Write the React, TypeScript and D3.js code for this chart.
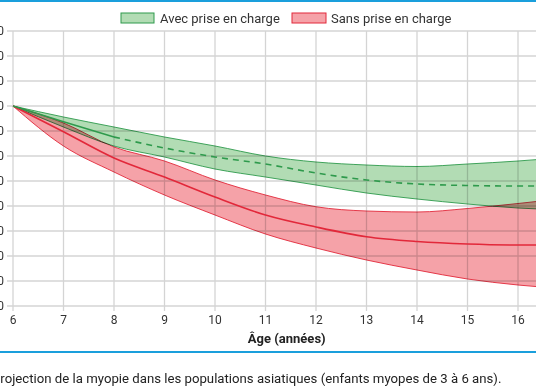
import React from 'react';
import * as d3 from 'd3';

// Âge (années)
const ages = [6, 7, 8, 9, 10, 11, 12, 13, 14, 15, 16, 17];

// Avec prise en charge : bornes et valeur centrale (dioptries)
const avecHaut = [-1.0, -1.44, -1.84, -2.24, -2.6, -3.0, -3.24, -3.36, -3.42, -3.32, -3.2, -3.04];
const avecMoyen = [-1.0, -1.63, -2.24, -2.68, -3.04, -3.32, -3.68, -3.96, -4.12, -4.18, -4.2, -4.2];
const avecBas = [-1.0, -1.84, -2.6, -3.04, -3.52, -3.84, -4.16, -4.48, -4.72, -4.92, -5.08, -5.16];

// Sans prise en charge
const sansHaut = [-1.0, -1.68, -2.64, -3.2, -3.96, -4.56, -5.03, -5.2, -5.24, -5.1, -4.9, -4.68];
const sansMoyen = [-1.0, -2.03, -3.08, -3.84, -4.64, -5.36, -5.84, -6.23, -6.42, -6.52, -6.56, -6.56];
const sansBas = [-1.0, -2.6, -3.64, -4.56, -5.36, -6.12, -6.68, -7.16, -7.56, -7.92, -8.16, -8.32];

const yTicks = [2, 1, 0, -1, -2, -3, -4, -5, -6, -7, -8, -9];
const xTicks = [6, 7, 8, 9, 10, 11, 12, 13, 14, 15, 16, 17];

const legendLabels = ['Avec prise en charge', 'Sans prise en charge'];
const caption =
  'Projection de la myopie dans les populations asiatiques (enfants myopes de 3 à 6 ans).';

const WIDTH = 536;
const HEIGHT = 386;
const FONT = 'Roboto, "Noto Sans", sans-serif';

const GREEN_FILL = '#b2dcb4';
const GREEN_LINE = '#2e9a4c';
const RED_FILL = '#f5a2a8';
const RED_LINE = '#e2283a';
const BLUE = '#1a9fdc';

const App = () => {
  const x = d3.scaleLinear().domain([6, 17]).range([13, 568.5]);
  const y = d3.scaleLinear().domain([2, -9]).range([31, 306]);

  const band = (hi: number[], lo: number[]) =>
    d3
      .area<number>()
      .x((_, i) => x(ages[i]))
      .y0((_, i) => y(lo[i]))
      .y1((_, i) => y(hi[i]))
      .curve(d3.curveMonotoneX)(ages);

  const line = (vals: number[], from = 0, to = ages.length) =>
    d3
      .line<number>()
      .x((d) => x(d))
      .y((d) => y(vals[ages.indexOf(d)]))
      .curve(d3.curveMonotoneX)(ages.slice(from, to));

  const fmt = (v: number) => d3.format('.2f')(v).replace('.', ',').replace('−', '-');

  // index of age 8, where the green central line switches to dashed
  const i8 = ages.indexOf(8);

  return (
    <svg
      width={WIDTH}
      height={HEIGHT}
      style={{ position: 'absolute', left: 0, top: 0, background: '#fff' }}
      fontFamily={FONT}
    >
      {/* blue frame lines */}
      <rect x={0} y={0} width={WIDTH} height={2} fill={BLUE} />
      <rect x={0} y={351} width={WIDTH} height={2} fill={BLUE} />

      {/* grid */}
      {yTicks.map((t) => (
        <line
          key={'h' + t}
          x1={7}
          x2={WIDTH}
          y1={y(t)}
          y2={y(t)}
          stroke="#d4d4d4"
          strokeWidth={1.3}
        />
      ))}
      {xTicks.map((t) => (
        <line
          key={'v' + t}
          x1={x(t)}
          x2={x(t)}
          y1={y(2)}
          y2={y(-9) + 5}
          stroke="#d4d4d4"
          strokeWidth={1.3}
        />
      ))}

      {/* y tick labels (cut off on the left, as in the source) */}
      {yTicks.map((t) => (
        <text
          key={'yl' + t}
          x={4}
          y={y(t)}
          dy="0.35em"
          textAnchor="end"
          fontSize={12}
          fill="#333"
        >
          {fmt(t)}
        </text>
      ))}

      {/* x tick labels */}
      {xTicks.map((t) => (
        <text
          key={'xl' + t}
          x={x(t)}
          y={324}
          textAnchor="middle"
          fontSize={12}
          fill="#333"
        >
          {t}
        </text>
      ))}
      <text
        x={(x(6) + x(17)) / 2 - 4}
        y={343}
        textAnchor="middle"
        fontSize={13}
        fontWeight="bold"
        fill="#222"
      >
        Âge (années)
      </text>

      {/* bands */}
      <path
        d={band(sansHaut, sansBas) || ''}
        fill={RED_FILL}
        stroke={RED_LINE}
        strokeWidth={0.9}
        style={{ mixBlendMode: 'multiply' }}
      />
      <path
        d={band(avecHaut, avecBas) || ''}
        fill={GREEN_FILL}
        stroke={GREEN_LINE}
        strokeWidth={0.9}
        style={{ mixBlendMode: 'multiply' }}
      />

      {/* central lines */}
      <path d={line(sansMoyen) || ''} fill="none" stroke={RED_LINE} strokeWidth={1.6} />
      <path d={line(avecMoyen, 0, i8 + 1) || ''} fill="none" stroke={GREEN_LINE} strokeWidth={1.6} />
      <path
        d={line(avecMoyen, i8) || ''}
        fill="none"
        stroke={GREEN_LINE}
        strokeWidth={1.6}
        strokeDasharray="6,5"
      />

      {/* legend */}
      <g>
        <rect x={121} y={13} width={33} height={10} fill={GREEN_FILL} stroke={GREEN_LINE} strokeWidth={1} />
        <text x={160} y={22.5} fontSize={13} fill="#333">
          {legendLabels[0]}
        </text>
        <rect x={292} y={13} width={34} height={10} fill={RED_FILL} stroke={RED_LINE} strokeWidth={1} />
        <text x={331} y={22.5} fontSize={13} fill="#333">
          {legendLabels[1]}
        </text>
      </g>

      {/* caption */}
      <text x={-8} y={383} fontSize={13.2} fill="#222">
        {caption}
      </text>
    </svg>
  );
};

export default App;
